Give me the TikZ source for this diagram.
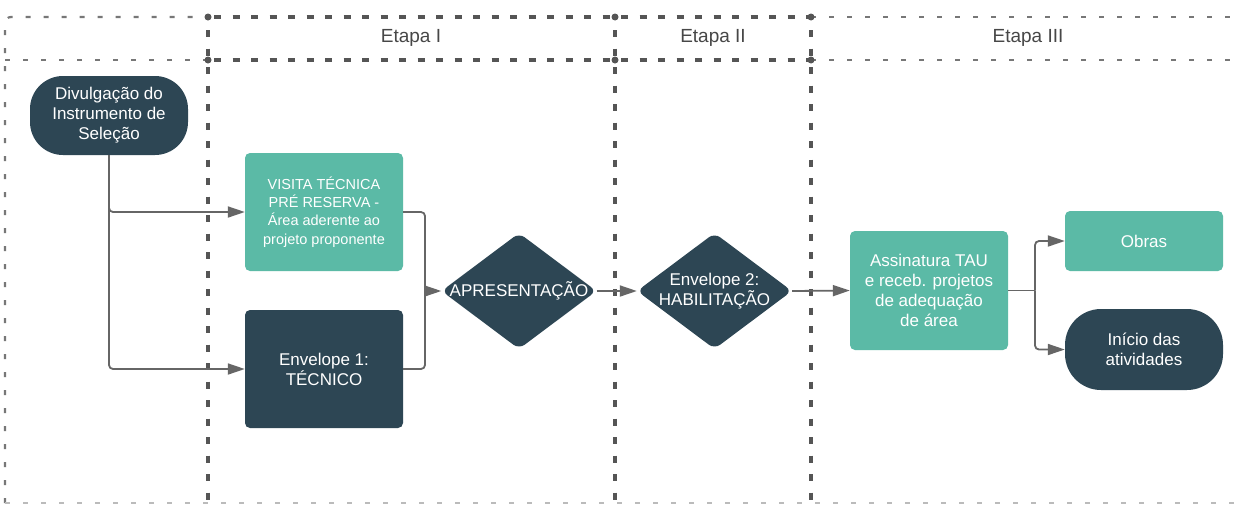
\documentclass[tikz,border=0pt]{standalone}
\usepackage{fontspec}
\setmainfont{Liberation Sans}
\usetikzlibrary{arrows.meta,shapes.geometric,calc}
\definecolor{dk}{HTML}{2D4654}
\definecolor{tl}{HTML}{5BBAA6}
\definecolor{ln}{HTML}{666666}
\definecolor{dsh}{HTML}{555555}
\tikzset{
 box/.style={rectangle, rounded corners=5pt, minimum width=158pt, minimum height=118pt, inner sep=0pt, align=center, text=white, font=\fontsize{17}{20}\selectfont},
 tealbox/.style={box, fill=tl},
 darkbox/.style={box, fill=dk},
 pill/.style={box, fill=dk, rounded corners=33pt},
 dia/.style={diamond, fill=dk, minimum width=155pt, minimum height=116pt, inner sep=0pt, rounded corners=7pt},
 dtext/.style={text=white, align=center, font=\fontsize{17}{20}\selectfont},
 conn/.style={draw=ln, line width=1.8pt, rounded corners=4pt, -{Triangle[length=17pt,width=11pt]}},
 wire/.style={draw=ln, line width=1.8pt, rounded corners=4pt},
 lane/.style={draw=dsh, line width=3.8pt, dash pattern=on 7pt off 11.5pt},
 lanelt/.style={draw=dsh!80, line width=2.2pt, dash pattern=on 5pt off 13pt},
 etapa/.style={text=black!72, font=\fontsize{19}{22}\selectfont},
 jdot/.style={circle, fill=dsh, inner sep=0pt, minimum size=7pt},
}
\begin{document}
\begin{tikzpicture}[x=1pt,y=-1pt]
\useasboundingbox (0,0) rectangle (1236,504);
\clip (0,0) rectangle (1236,504);
\fill[white] (0,0) rectangle (1236,504);
% swimlane frame
\draw[lanelt, rounded corners=6pt] (5,503) -- (5,17) -- (208,17);
\draw[lane] (214,17) -- (811,17);
\draw[lanelt] (811,17) -- (1245,17);
\draw[lanelt] (5,60) -- (208,60);
\draw[lane] (214,60) -- (811,60);
\draw[lanelt] (811,60) -- (1245,60);
\draw[lanelt, draw=dsh!40] (5,503) -- (1245,503);
\draw[lane] (208,30) -- (208,503);
\draw[lane] (615,30) -- (615,503);
\draw[lane] (811,30) -- (811,503);
\foreach \xx in {208,615,811} {
  \node[jdot] (t\xx) at (\xx,17) {};
  \node[jdot] (h\xx) at (\xx,60) {};
}
\node[etapa] (e1) at (411,38) {Etapa I};
\node[etapa] (e2) at (713,38) {Etapa II};
\node[etapa] (e3) at (1028,38) {Etapa III};
% nodes
\node[pill, minimum height=79pt] (div) at (109,115.5) {Divulgação do\\Instrumento de\\Seleção};
\node[tealbox, font=\fontsize{14.5}{18.3}\selectfont] (vis) at (324,212) {VISITA TÉCNICA\\PRÉ RESERVA -\\Área aderente ao\\projeto proponente};
\node[darkbox] (env1) at (324,369) {Envelope 1:\\TÉCNICO};
\node[dia] (apr) at (519,291) {};
\node[dtext] (aprt) at (apr) {APRESENTAÇÃO};
\node[dia] (env2) at (714.5,291) {};
\node[dtext] (env2t) at (env2) {Envelope 2:\\HABILITAÇÃO};
\node[tealbox, minimum height=119pt] (ass) at (929,290.5) {Assinatura TAU\\e receb. projetos\\de adequação\\de área};
\node[tealbox, minimum height=60pt] (obr) at (1144,241) {Obras};
\node[pill, minimum height=81pt, rounded corners=36pt] (ini) at (1144,349.5) {Início das\\atividades};
% connectors
\coordinate (j1) at (425,291);
\coordinate (j2) at (1035,290.5);
\draw[conn] (div.south) |- (vis.west);
\draw[conn] (div.south) |- (env1.west);
\draw[wire] (vis.east) -| (j1);
\draw[wire] (env1.east) -| (j1);
\draw[conn] (j1) -- (apr.west);
\draw[conn] (apr.east) -- (env2.west);
\draw[conn] (env2.east) -- (ass.west);
\draw[wire] (ass.east) -- (j2);
\draw[conn] (j2) |- (obr.west);
\draw[conn] (j2) |- (ini.west);
\end{tikzpicture}
\end{document}
